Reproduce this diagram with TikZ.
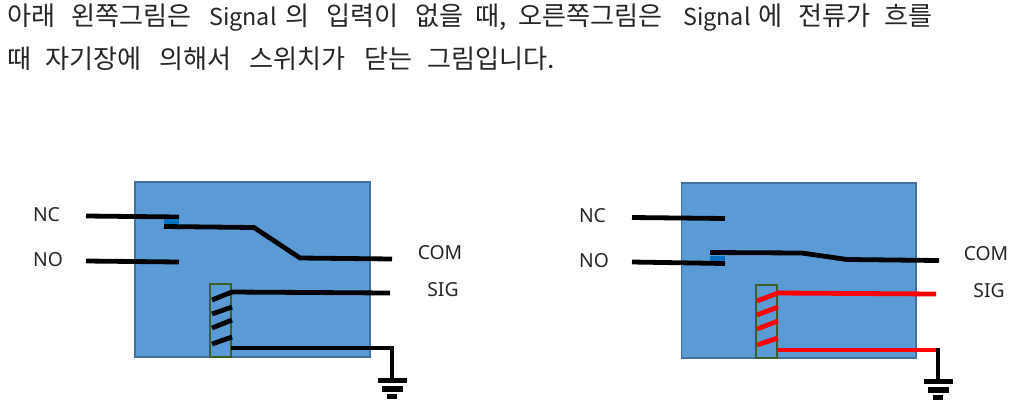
\documentclass[tikz,border=0pt]{standalone}
\usepackage{fontspec}
\setmainfont{Noto Sans}
\newfontfamily\krfont{Noto Sans CJK KR}
\newlength{\pxu}\setlength{\pxu}{0.75pt}
\newcommand{\wbox}[2]{\makebox[#1\pxu][l]{#2}}
\newcommand{\latn}[1]{{\fontsize{17.5}{20}\selectfont #1}}
\definecolor{boxfill}{HTML}{5B9BD5}
\definecolor{boxline}{HTML}{41719C}
\definecolor{coilline}{HTML}{3F5F2A}
\definecolor{contact}{HTML}{0070C0}
\tikzset{
  x=0.75pt,y=-0.75pt,
  relaybox/.style={fill=boxfill,draw=boxline,line width=1.4pt},
  wire/.style={line width=3.6pt,black,line join=miter},
  hot/.style={line width=3.6pt,red},
  coil/.style={draw=coilline,line width=1.3pt},
  gnd/.style={line width=3.9pt,black},
  lab/.style={font=\fontsize{14.5}{16}\selectfont,text=black!85,inner sep=0pt,anchor=center},
  para/.style={font=\krfont\fontsize{19.6}{22}\selectfont,text=black!85,inner sep=0pt,anchor=base west}
}
\begin{document}
\begin{tikzpicture}
\useasboundingbox (0,0) rectangle (1020,415);
\node[para] (l1) at (7,25) {\wbox{64}{아래}\wbox{138}{왼쪽그림은}\wbox{76}{\latn{Signal}}\wbox{41}{의}\wbox{89}{입력이}\wbox{60}{없을}\wbox{43}{때,}\wbox{165}{오른쪽그림은}\wbox{75}{\latn{Signal}}\wbox{40}{에}\wbox{86}{전류가}흐를};
\node[para] (l2) at (7,68) {\wbox{38}{때}\wbox{114}{자기장에}\wbox{90}{의해서}\wbox{115}{스위치가}\wbox{63}{닫는}그림입니다.};

% left relay
\draw[relaybox] (135,182) rectangle (370,357);
\coordinate (a1) at (86,216); \coordinate (a2) at (179,217);
\coordinate (b1) at (86,261); \coordinate (b2) at (179,262);
\draw[wire] (a1) -- (a2);
\draw[wire] (b1) -- (b2);
\fill[contact] (164,219) rectangle (179,224);
\coordinate (c1) at (164,226.5); \coordinate (c2) at (254,227.5); \coordinate (c3) at (300,258); \coordinate (c4) at (392,259);
\draw[wire] (c1) -- (c2) -- (c3) -- (c4);
\draw[coil] (210,284) rectangle (231,357);
\coordinate (s1) at (231,292); \coordinate (s2) at (390,293);
\draw[wire] (s1) -- (s2);
\draw[wire] (212,300) -- (232,292);
\draw[wire] (212,314) -- (232,307);
\draw[wire] (212,328) -- (232,320);
\draw[wire] (212,344) -- (232,337);
\coordinate (d1) at (231,348); \coordinate (d2) at (392,348); \coordinate (d3) at (392,380);
\draw[wire] (d1) -- (d2) -- (d3);
\draw[gnd] (378,380.5) -- (407,380.5);
\draw[gnd] (382,389) -- (403,389);
\draw[gnd] (387,396.5) -- (397,396.5);
\node[lab] (nc1) at (46.5,215) {NC};
\node[lab] (no1) at (48,260) {NO};
\node[lab] (com1) at (440,253) {COM};
\node[lab] (sig1) at (443,290) {SIG};

% right relay
\draw[relaybox] (681.5,183) rectangle (916,358);
\coordinate (e1) at (632,217.5); \coordinate (e2) at (725,218.5);
\coordinate (f1) at (632,262); \coordinate (f2) at (725,263.5);
\draw[wire] (e1) -- (e2);
\fill[contact] (710,256) rectangle (725,261);
\draw[wire] (f1) -- (f2);
\coordinate (g1) at (710,252.5); \coordinate (g2) at (802,253); \coordinate (g3) at (847,259.5); \coordinate (g4) at (939,260.5);
\draw[wire] (g1) -- (g2) -- (g3) -- (g4);
\draw[coil] (756,285) rectangle (777,358);
\coordinate (h1) at (777,293); \coordinate (h2) at (936,294);
\draw[hot] (h1) -- (h2);
\draw[hot] (757,301) -- (778,293);
\draw[hot] (757,315) -- (778,307);
\draw[hot] (757,329) -- (778,321);
\draw[hot] (757,345) -- (778,338);
\coordinate (i1) at (777,350); \coordinate (i2) at (936,350);
\draw[hot] (i1) -- (i2);
\coordinate (j1) at (938,348); \coordinate (j2) at (938,381);
\draw[wire] (j1) -- (j2);
\draw[gnd] (924,381.5) -- (953,381.5);
\draw[gnd] (928,390) -- (949,390);
\draw[gnd] (933,397.5) -- (943,397.5);
\node[lab] (nc2) at (592.5,216) {NC};
\node[lab] (no2) at (594,261) {NO};
\node[lab] (com2) at (986,254) {COM};
\node[lab] (sig2) at (989,291) {SIG};
\end{tikzpicture}
\end{document}
